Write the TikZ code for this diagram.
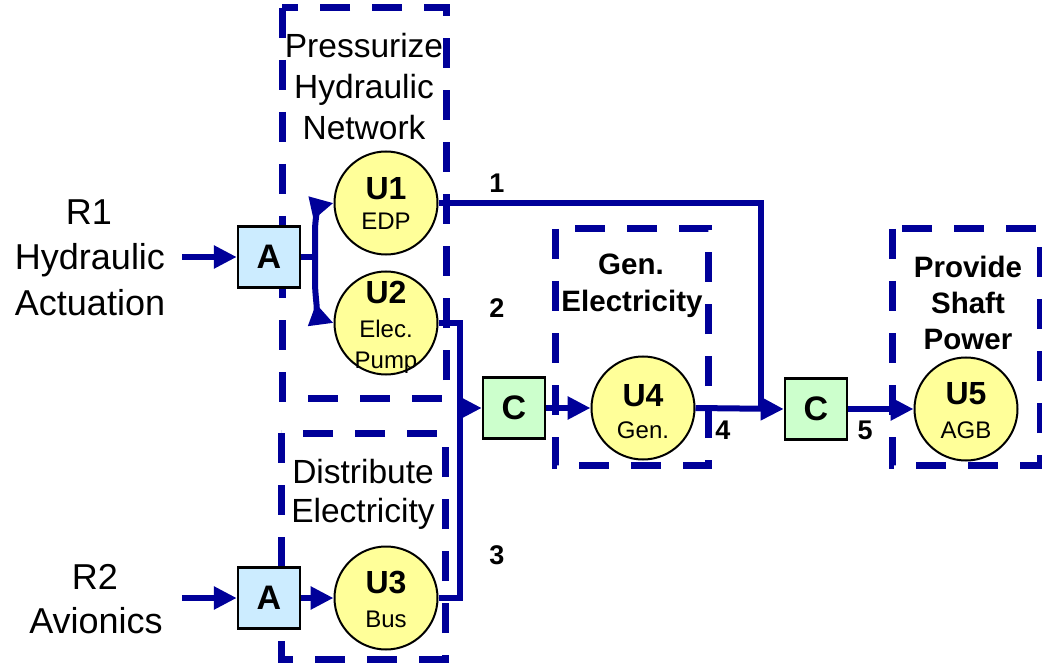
\documentclass[tikz,border=0pt]{standalone}
\usepackage{fontspec}
\setmainfont{Liberation Sans}
\usetikzlibrary{arrows.meta}
\definecolor{nav}{RGB}{0,0,153}
\definecolor{yel}{RGB}{255,255,153}
\definecolor{lblue}{RGB}{204,236,255}
\definecolor{lgreen}{RGB}{204,255,204}
\begin{document}
\begin{tikzpicture}[x=1pt,y=-1pt,
  unit/.style={circle,draw=black,line width=2pt,fill=yel,minimum size=103pt,inner sep=0pt},
  uname/.style={anchor=base,inner sep=0pt,font=\fontsize{32}{32}\selectfont\bfseries},
  usub/.style={anchor=base,inner sep=0pt,font=\fontsize{24}{24}\selectfont},
  abox/.style={draw=black,line width=2.5pt,fill=lblue,minimum width=62pt,minimum height=61pt,inner sep=0pt,font=\fontsize{34}{34}\selectfont\bfseries},
  cbox/.style={abox,fill=lgreen},
  flow/.style={draw=nav,line width=6pt},
  arr/.style={flow,-{Triangle[length=23pt,width=22pt]}},
  zone/.style={draw=nav,line width=7pt,dash pattern=on 30pt off 22pt},
  ztext/.style={anchor=base,inner sep=0pt,font=\fontsize{33.5}{33.5}\selectfont},
  zbold/.style={anchor=base,inner sep=0pt,font=\fontsize{29.5}{29.5}\selectfont\bfseries},
  rtext/.style={anchor=base,inner sep=0pt,font=\fontsize{36}{36}\selectfont},
  num/.style={font=\fontsize{27}{27}\selectfont\bfseries,inner sep=0pt},
]
\useasboundingbox (0,0) rectangle (1042,671);

% zones
\draw[zone] (282,8) rectangle (446,398);
\draw[zone] (281,433) rectangle (445,659);
\draw[zone] (555,229) rectangle (708,465);
\draw[zone] (892,229) rectangle (1040,465);

\node[ztext] (zt1a) at (364,58) {Pressurize};
\node[ztext] (zt1b) at (364,99) {Hydraulic};
\node[ztext] (zt1c) at (364,140) {Network};
\node[ztext] (zt2a) at (363,483) {Distribute};
\node[ztext] (zt2b) at (363,522) {Electricity};
\node[zbold] (zt3a) at (631,275) {Gen.};
\node[zbold] (zt3b) at (632,312) {Electricity};
\node[zbold] (zt4a) at (968,277) {Provide};
\node[zbold] (zt4b) at (968,313) {Shaft};
\node[zbold] (zt4c) at (968,349) {Power};

% requirement texts
\node[rtext] (r1a) at (89,225) {R1};
\node[rtext] (r1b) at (90,270) {Hydraulic};
\node[rtext] (r1c) at (90,316) {Actuation};
\node[rtext] (r2a) at (95,589) {R2};
\node[rtext] (r2b) at (96,633) {Avionics};
\coordinate (r1in) at (182,257);
\coordinate (r2in) at (182,598);

% boxes
\node[abox] (A1) at (269,257) {A};
\node[abox] (A2) at (269,598) {A};
\node[cbox] (C1) at (514,408) {C};
\node[cbox] (C2) at (816,409) {C};

% units
\node[unit] (U1) at (386,203) {};
\node[unit] (U2) at (386,323) {};
\node[unit] (U3) at (386,598) {};
\node[unit] (U4) at (643,408) {};
\node[unit] (U5) at (966,409) {};
\node[uname] (u1n) at (386,200) {U1};
\node[usub]  (u1s) at (386,230) {EDP};
\node[uname] (u2n) at (386,304) {U2};
\node[usub]  (u2s) at (386,337) {Elec.};
\node[usub]  (u2t) at (386,368) {Pump};
\node[uname] (u3n) at (386,593) {U3};
\node[usub]  (u3s) at (386,627) {Bus};
\node[uname] (u4n) at (643,406) {U4};
\node[usub]  (u4s) at (643,438) {Gen.};
\node[uname] (u5n) at (966,404) {U5};
\node[usub]  (u5s) at (966,438) {AGB};

% connectors
\draw[arr] (r1in) -- (A1.west);
\draw[arr] (r2in) -- (A2.west);
\coordinate (F) at (315,257);
\draw[flow] (A1.east) -- (F);
\draw[arr] (F) -- (315,232) .. controls (315,214) and (320,206) .. (U1.west);
\draw[arr] (F) -- (315,282) .. controls (315,300) and (320,318) .. (U2.west);
\draw[arr] (A2.east) -- (U3.west);

\coordinate (J) at (460,408);
\coordinate (K) at (761,408);
\draw[flow] (U2.east) -| (J);
\draw[flow] (U3.east) -| (J);
\draw[arr] (J) -- (C1.west);
\draw[arr] (C1.east) -- (U4.west);
\draw[flow] (U1.east) -| (K);
\draw[arr] (U4.east) -- (C2.west);
\draw[arr] (C2.east) -- (U5.west);

% labels
\node[num] (n1) at (497,183) {1};
\node[num] (n2) at (497,308) {2};
\node[num] (n3) at (497,555) {3};
\node[num] (n4) at (723,430) {4};
\node[num] (n5) at (865,430) {5};
\end{tikzpicture}
\end{document}
